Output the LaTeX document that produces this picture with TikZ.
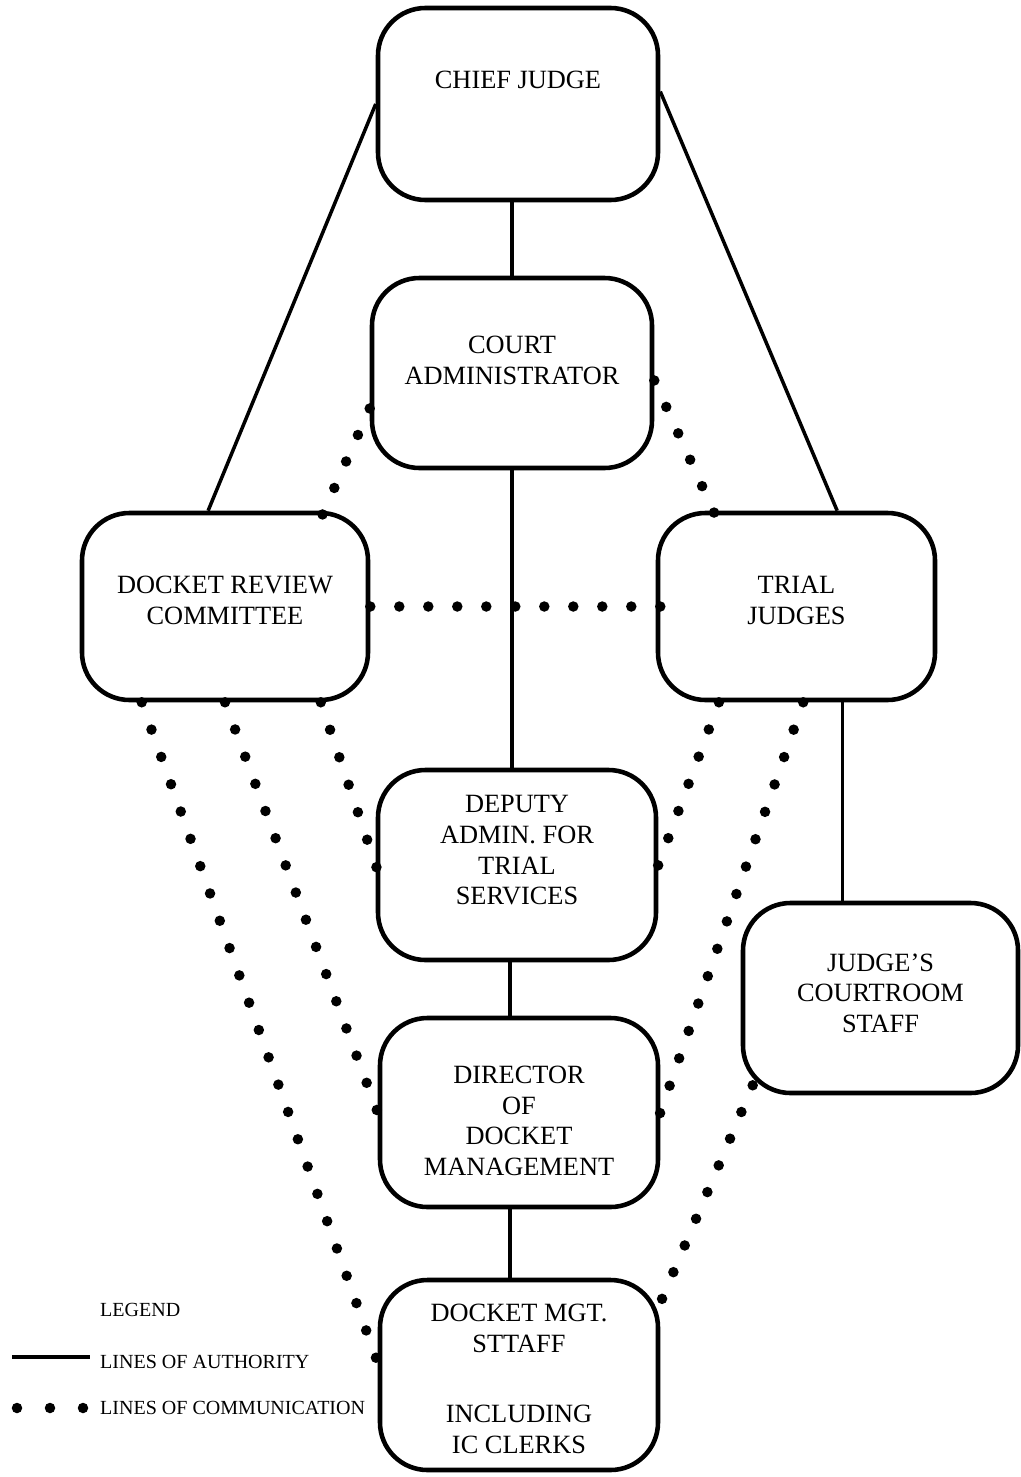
\documentclass[tikz,border=0pt]{standalone}
\usepackage{fontspec}
\setmainfont{Liberation Serif}
\usetikzlibrary{calc}
\tikzset{
    box/.style={draw, line width=2.6pt, rounded corners=0.95cm, align=center,
        font=\fontsize{15}{17.5}\selectfont, minimum width=5.6cm, minimum height=3.8cm},
    lift/.style={text depth=#1},
    auth/.style={line width=2pt},
    comm/.style={line width=0.21cm, line cap=round, dash pattern=on 0pt off 0.58cm, shorten >=-3pt},
    legend/.style={anchor=west, font=\fontsize{11.4}{13}\selectfont}
}

\begin{document}
\begin{tikzpicture}[x=0.2mm, y=-0.2mm]
\useasboundingbox (0,0) rectangle (1020,1477);
% boxes
\node[box, lift=0.96cm, minimum height=3.84cm] (cj) at (518,104) {CHIEF JUDGE};
\node[box, lift=0.52cm] (ca) at (512,373) {COURT\\ADMINISTRATOR};
\node[box, lift=0.24cm, minimum width=5.72cm, minimum height=3.74cm] (drc) at (225,606.5) {DOCKET REVIEW\\COMMITTEE};
\node[box, lift=0.24cm, minimum width=5.54cm, minimum height=3.74cm] (tj) at (796.5,606.5) {TRIAL\\JUDGES};
\node[box, lift=0.6cm, minimum width=5.56cm] (dep) at (517,865) {DEPUTY\\ADMIN. FOR\\TRIAL\\SERVICES};
\node[box, lift=0.2cm, minimum width=5.5cm] (jcs) at (880.5,998) {JUDGE'S\\COURTROOM\\STAFF};
\node[box, text height=72pt, minimum width=5.56cm, minimum height=3.78cm] (dir) at (519,1112.5) {DIRECTOR\\OF\\DOCKET\\MANAGEMENT};
\node[box, text height=89pt, minimum width=5.56cm] (dms) at (519,1375) {DOCKET MGT.\\STTAFF\\[0.78cm]INCLUDING\\IC CLERKS};
\coordinate (spine) at (510,0);

% lines of authority
\draw[auth] (cj.west) -- (drc.100);
\draw[auth] (cj.5) -- (tj.67);
\draw[auth] (ca.north) -- (ca.north |- cj.south);
\draw[auth] (ca.south) -- (ca.south |- dep.north);
\draw[auth] ([xshift=0.92cm]tj.south) -- ([xshift=0.92cm]tj.south |- jcs.north);
\draw[auth] (spine |- dep.south) -- (spine |- dir.north);
\draw[auth] (spine |- dir.south) -- (spine |- dms.north);

% lines of communication
\draw[comm] (ca.194) -- (drc.44);
\draw[comm] (ca.357) -- (tj.131);
\draw[comm] (drc.east) -- (tj.west);
\draw[comm] (drc.229) -- (dms.175);
\draw[comm] (drc.south) -- (dir.west);
\draw[comm] (drc.315) -- (dep.west);
\draw[comm] (tj.231) -- (dep.east);
\draw[comm] (tj.274) -- (dir.east);
\draw[comm] ([shift={(12,-10)}]jcs.south west) -- (dms.27);

% legend
\node[legend] (leg) at (94,1310) {LEGEND};
\coordinate (a1) at (12,1357);
\coordinate (a2) at (90,1357);
\draw[auth, line width=2.4pt] (a1) -- (a2);
\node[legend] (leg-auth) at (94,1362) {LINES OF AUTHORITY};
\coordinate (c1) at (17,1408);
\coordinate (c2) at (90,1408);
\draw[comm, dash pattern=on 0pt off 0.66cm, shorten >=0pt] (c1) -- (c2);
\node[legend] (leg-comm) at (94,1408) {LINES OF COMMUNICATION};
\end{tikzpicture}
\end{document}
